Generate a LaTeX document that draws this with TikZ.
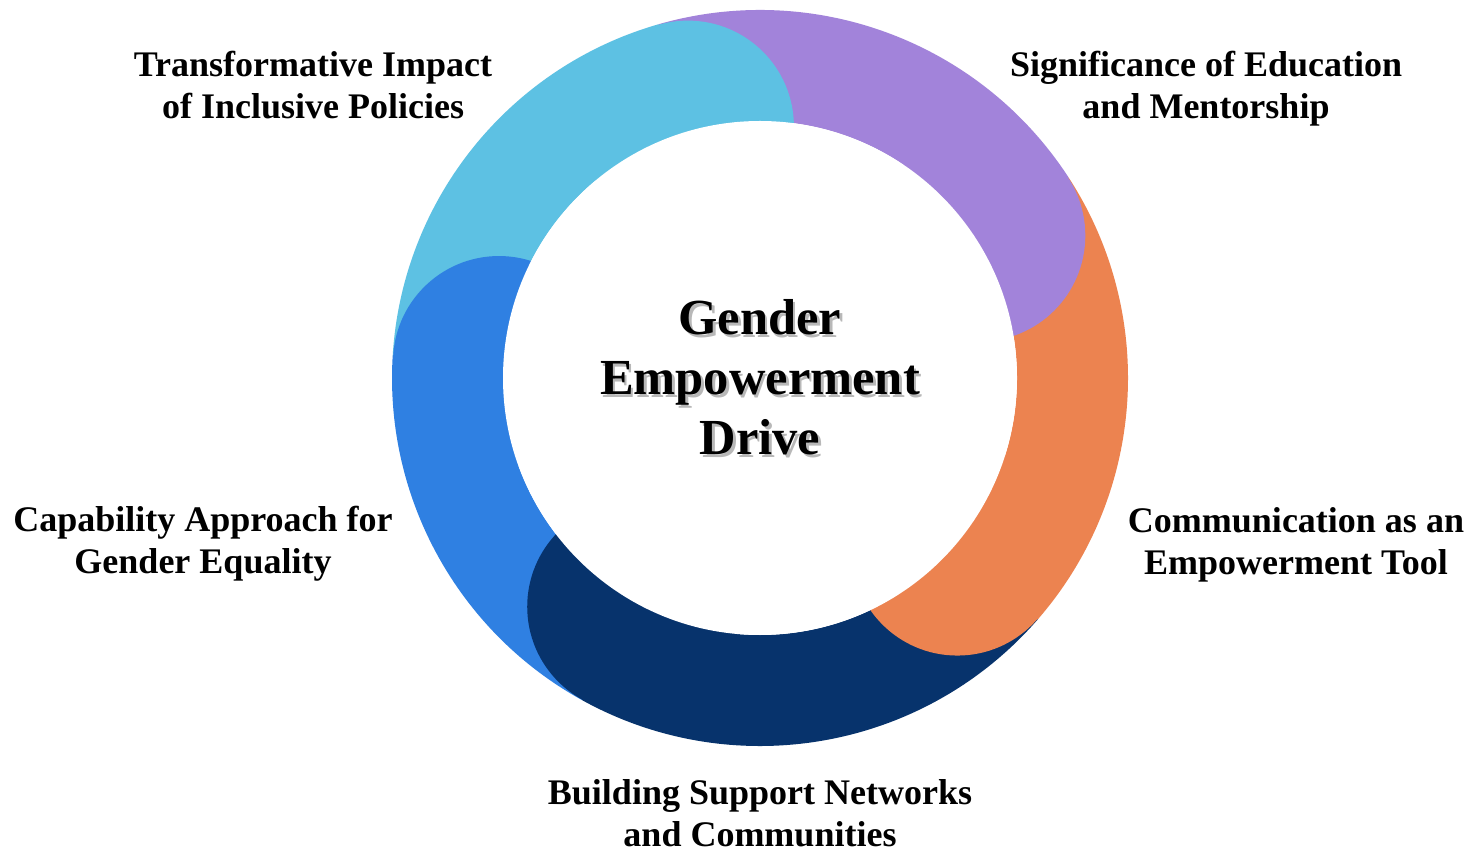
\documentclass[tikz,border=0pt]{standalone}
\usepackage{fontspec}
\setmainfont{Liberation Serif}
\definecolor{lblue}{HTML}{5DC1E3}
\definecolor{purp}{HTML}{A283DA}
\definecolor{orng}{HTML}{EC8350}
\definecolor{navyc}{HTML}{07336C}
\definecolor{mblue}{HTML}{2F80E2}
\newcommand\Ro{368}
\newcommand\Ri{257}
\newcommand\ringseg[3]{\fill[#1] (#2:\Ro) arc[start angle=#2,end angle=#3,radius=\Ro] -- (#3:\Ri) arc[start angle=#3,end angle=#2,radius=\Ri] -- cycle;}
\newcommand\ringcap[2]{\fill[#1] (#2:261.5) circle[radius=106];}
\newcommand\shd[1]{\makebox[0pt][l]{\hspace*{2.5pt}\raisebox{-2.5pt}{\textcolor{black!28}{#1}}}#1}
\tikzset{
  lbl/.style={font=\fontsize{36}{42}\selectfont\bfseries, align=center, inner sep=0pt},
  ctr/.style={font=\fontsize{50.5}{60}\selectfont\bfseries, align=center, inner sep=0pt}
}
\begin{document}
\begin{tikzpicture}[x=1pt,y=1pt]
\useasboundingbox (0,0) rectangle (1477,863);
\fill[white] (0,0) rectangle (1477,863);
\begin{scope}[shift={(760,485)}]
  \ringseg{lblue}{106}{176.5}
  \ringseg{purp}{33}{106}
  \ringseg{orng}{-41}{33}
  \ringseg{navyc}{-119}{-41}
  \ringseg{mblue}{-183.5}{-119}
  \begin{scope}
    \clip (0,0) circle[radius=\Ro];
    \ringcap{lblue}{106}
    \ringcap{purp}{33}
    \ringcap{orng}{-41}
    \ringcap{navyc}{-119}
    \ringcap{mblue}{176.5}
  \end{scope}
  \fill[white] (0,0) circle[radius=\Ri];
\end{scope}
\node[ctr] (center) at (760,480) {\strut\shd{Gender}\\\shd{Empowerment}\\\shd{Drive}\strut};
\node[lbl] (tip) at (313,773.4) {\strut Transformative Impact\\of Inclusive Policies\strut};
\node[lbl] (sem) at (1206,773.4) {\strut Significance of Education\\and Mentorship\strut};
\node[lbl] (cap) at (203,318.5) {\strut Capability Approach for\\Gender Equality\strut};
\node[lbl] (com) at (1296,318) {\strut Communication as an\\Empowerment Tool\strut};
\node[lbl] (bsn) at (760,46) {\strut Building Support Networks\\and Communities\strut};
\end{tikzpicture}
\end{document}
